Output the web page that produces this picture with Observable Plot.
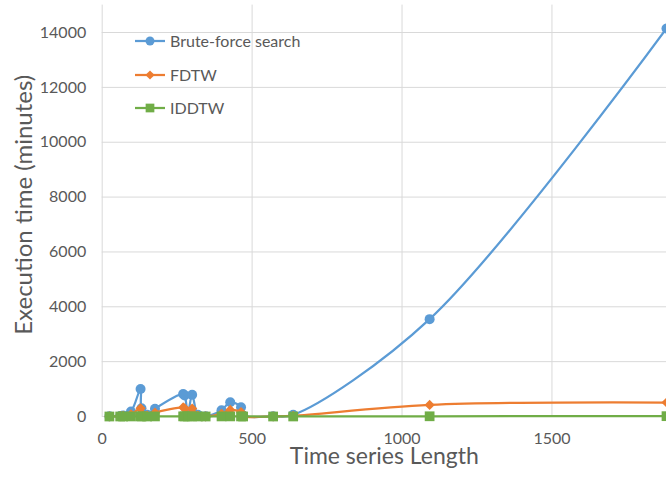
<!DOCTYPE html>
<html><head><meta charset="utf-8">
<script src="https://cdn.jsdelivr.net/npm/d3@7"></script>
<script src="https://cdn.jsdelivr.net/npm/@observablehq/plot@0.6"></script>
<style>
body{margin:0;background:#fff}
#chart{position:relative;width:666px;height:477px;overflow:hidden}
#legend{position:absolute;left:0;top:0}
</style>
</head><body><div id="chart"></div>
<script>
// Time series length (x)
const lengths   = [24, 60, 70, 96, 128, 131, 150, 176, 270, 275, 286, 300, 319, 345, 398, 427, 463, 470, 570, 637, 1092, 1882];
// Execution time (minutes)
const bruteForce = [5, 20, 40, 180, 1000, 300, 60, 280, 820, 770, 150, 790, 60, 10, 230, 520, 340, 40, 10, 60, 3550, 14150];
const fdtw       = [2, 10, 20, 80, 300, 120, 30, 140, 330, 300, 60, 290, 30, 5, 100, 240, 160, 20, 5, 20, 420, 510];
const iddtw      = [0, 1, 1, 2, 5, 3, 1, 3, 5, 5, 2, 5, 1, 0, 3, 4, 3, 1, 0, 1, 8, 12];
const seriesNames = ["Brute-force search", "FDTW", "IDDTW"];
const seriesColors = ["#5B9BD5", "#ED7D31", "#70AD47"];
const seriesSymbols = ["circle", "diamond2", "square"];
const seriesR = [5, 4.6, 5.5];
const xTicks = [0, 500, 1000, 1500];
const yTicks = [0, 2000, 4000, 6000, 8000, 10000, 12000, 14000];

const values = [bruteForce, fdtw, iddtw];
const tables = seriesNames.map((s, k) => lengths.map((x, i) => ({series: s, x, y: values[k][i]})));
const fmt = d3.format("d");

const marks = [
  Plot.gridX(xTicks, {stroke: "#d9d9d9", strokeOpacity: 1}),
  Plot.gridY(yTicks, {stroke: "#d9d9d9", strokeOpacity: 1}),
  Plot.axisY(yTicks, {tickSize: 0, tickPadding: 16, fontSize: 16, label: null, tickFormat: fmt}),
  Plot.axisX(xTicks, {tickSize: 0, tickPadding: 16, fontSize: 16, label: null, tickFormat: fmt}),
  Plot.text(["Time series Length"], {frameAnchor: "bottom", dy: 47, fontSize: 23}),
  Plot.text(["Execution time (minutes)"], {frameAnchor: "left", textAnchor: "middle", rotate: -90, dx: -78, dy: -6, fontSize: 24})
];
tables.forEach((t, k) => {
  marks.push(Plot.line(t, {x: "x", y: "y", stroke: seriesColors[k], strokeWidth: 2.25, curve: "catmull-rom"}));
  marks.push(Plot.dot(t, {x: "x", y: "y", fill: seriesColors[k], symbol: seriesSymbols[k], r: seriesR[k], stroke: "none"}));
});

const plot = Plot.plot({
  width: 666, height: 477,
  marginLeft: 101.7, marginRight: 0, marginTop: 4.6, marginBottom: 61,
  x: {domain: [0, 1882]},
  y: {domain: [0, 15000]},
  style: {fontFamily: "Lato, 'Open Sans', sans-serif", color: "#595959", background: "white", overflow: "hidden"},
  marks
});
const chart = document.getElementById("chart");
chart.appendChild(plot);

// Legend overlay
const leg = d3.select(chart).append("svg").attr("id", "legend").attr("width", 666).attr("height", 477);
const rowsY = [41, 75, 108];
seriesNames.forEach((s, k) => {
  const g = leg.append("g").attr("transform", `translate(135,${rowsY[k]})`);
  g.append("line").attr("x1", 0).attr("x2", 30).attr("stroke", seriesColors[k]).attr("stroke-width", 2.25);
  const sym = {circle: d3.symbolCircle, diamond2: d3.symbolDiamond2, square: d3.symbolSquare}[seriesSymbols[k]];
  g.append("path").attr("transform", "translate(15,0)")
    .attr("d", d3.symbol(sym, Math.PI * seriesR[k] * seriesR[k] * 0.8)()).attr("fill", seriesColors[k]);
  g.append("text").attr("x", 35).attr("dy", "0.35em").attr("fill", "#595959")
    .style("font-family", "Lato, 'Open Sans', sans-serif").style("font-size", "16px").text(s);
});
</script></body></html>
